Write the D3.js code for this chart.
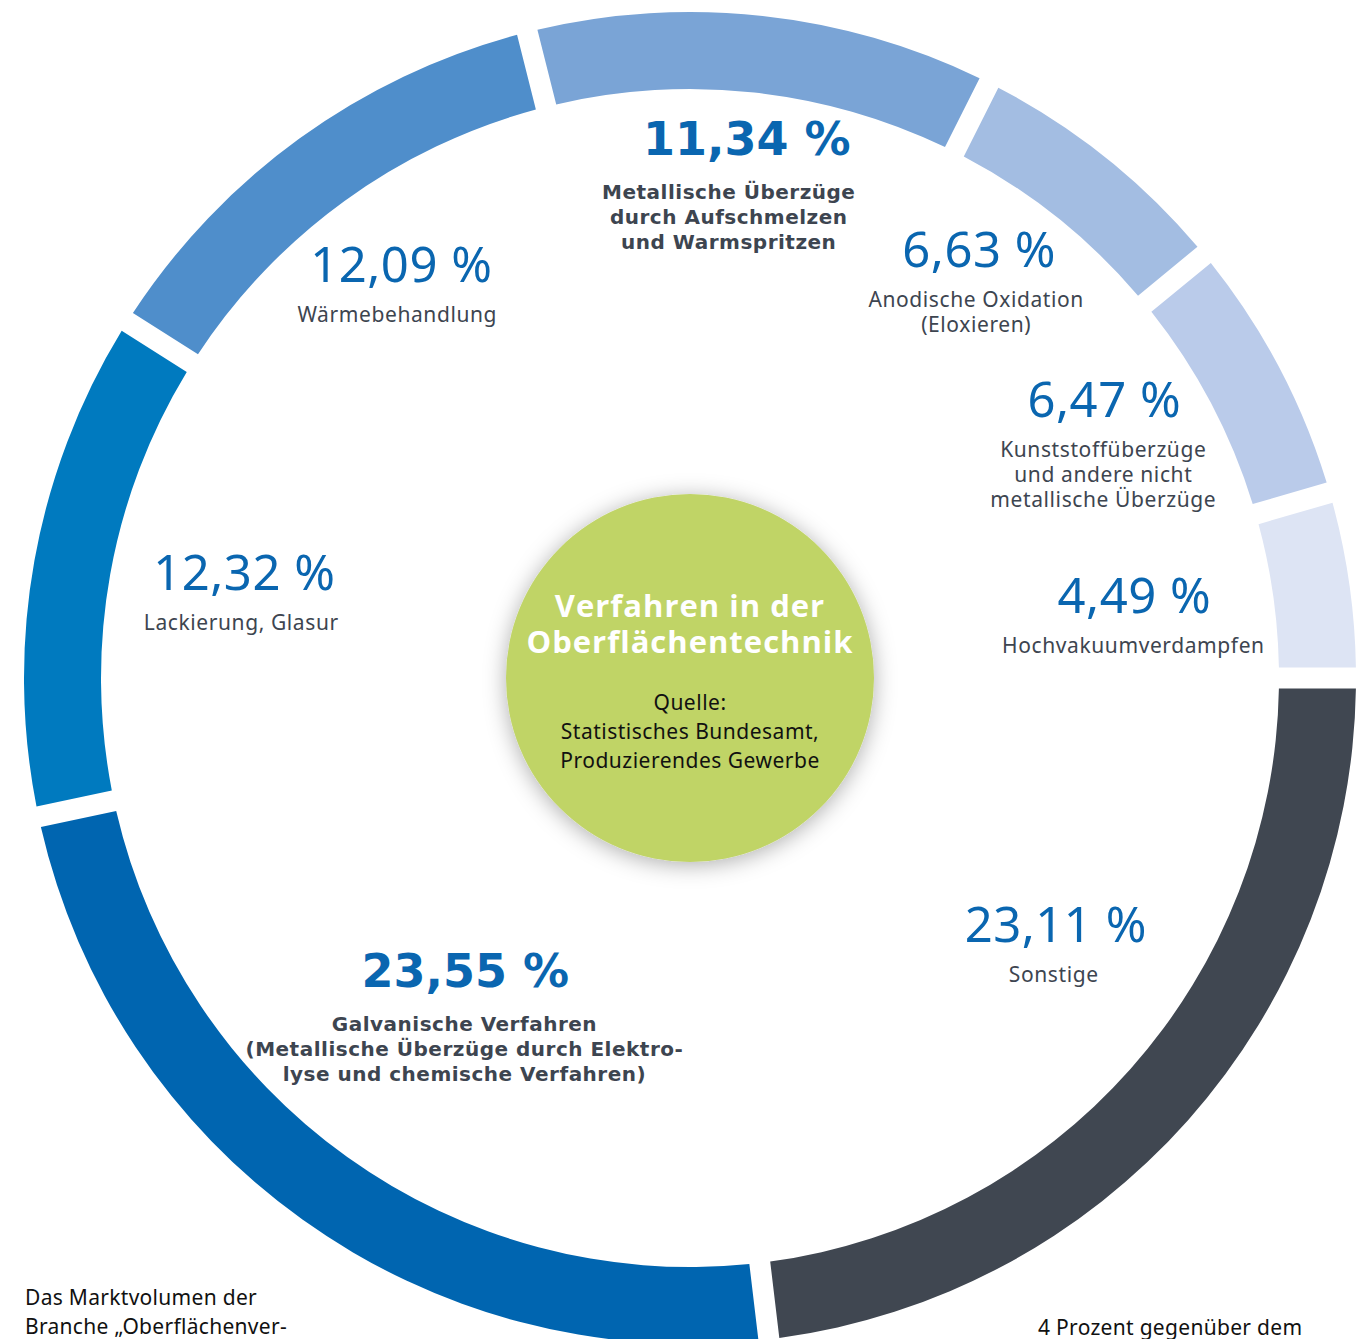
<!DOCTYPE html>
<html>
<head>
<meta charset="utf-8">
<script src="https://cdn.jsdelivr.net/npm/d3@7"></script>
<style>
  html, body { margin: 0; padding: 0; background: #fff; overflow: hidden; }
  svg { display: block; }
</style>
</head>
<body>
<script>
var width = 1367, height = 1339;
var cx = 690, cy = 678; //ring centre

//Data, clockwise from 3 o'clock
var categories = ["Sonstige", "Galvanische Verfahren", "Lackierung, Glasur", "Wärmebehandlung",
  "Metallische Überzüge durch Aufschmelzen und Warmspritzen", "Anodische Oxidation",
  "Kunststoffüberzüge", "Hochvakuumverdampfen"];
var shares = [23.11, 23.55, 12.32, 12.09, 11.34, 6.63, 6.47, 4.49];
var labelLines = [
  ["Sonstige"],
  ["Galvanische Verfahren", "(Metallische Überzüge durch Elektro-", "lyse und chemische Verfahren)"],
  ["Lackierung, Glasur"],
  ["Wärmebehandlung"],
  ["Metallische Überzüge", "durch Aufschmelzen", "und Warmspritzen"],
  ["Anodische Oxidation", "(Eloxieren)"],
  ["Kunststoffüberzüge", "und andere nicht", "metallische Überzüge"],
  ["Hochvakuumverdampfen"]
];
var highlighted = [false, true, false, false, true, false, false, false];

var centreTitle = ["Verfahren in der", "Oberflächentechnik"];
var centreSource = ["Quelle:", "Statistisches Bundesamt,", "Produzierendes Gewerbe"];
var footLeft = ["Das Marktvolumen der", "Branche „Oberflächenver-"];
var footRight = ["4 Prozent gegenüber dem"];

//Styling / layout (kept apart from the data)
var colors = ["#404751", "#0065b0", "#007abf", "#4f8ecb", "#7aa4d6", "#a3bde2", "#bacbea", "#dde4f4"];
var nudge = [[16, -45], [45, -69], [9, -6], [-20, -19], [-12, -61], [-4, -48], [2, -44], [-17, 0]];
var numberShift = [2, 1, 3, 4, 18, 3, 1, 1];

var fmt = function(v) { return v.toFixed(2).replace(".", ",") + " %"; };

var svg = d3.select("body").append("svg").attr("width", width).attr("height", height);

var defs = svg.append("defs");
var shadow = defs.append("filter").attr("id", "shade")
  .attr("x", "-30%").attr("y", "-30%").attr("width", "160%").attr("height", "160%");
shadow.append("feDropShadow").attr("dx", 0).attr("dy", 3)
  .attr("stdDeviation", 11).attr("flood-color", "#000").attr("flood-opacity", 0.32);

var g = svg.append("g").attr("transform", "translate(" + cx + "," + cy + ")");

//Proportional angles; the gap is cut out by the arc generator, centred on each boundary
var pie = d3.pie().sort(null).value(function(d) { return d; })
  .startAngle(Math.PI / 2).endAngle(Math.PI / 2 + 2 * Math.PI);

var arc = d3.arc().innerRadius(589).outerRadius(666)
  .padRadius(600).padAngle(21 / 600);
var labelArc = d3.arc().innerRadius(465).outerRadius(465);

var arcs = pie(shares);

g.selectAll("path.slice").data(arcs).enter().append("path")
  .attr("class", "slice")
  .attr("d", arc)
  .attr("fill", function(d, i) { return colors[i]; });

//Segment labels
var blocks = g.selectAll("g.lab").data(arcs).enter().append("g")
  .attr("class", "lab")
  .attr("transform", function(d, i) {
    var c = labelArc.centroid(d);
    return "translate(" + (c[0] + nudge[i][0]) + "," + (c[1] + nudge[i][1]) + ")";
  });

blocks.append("text")
  .attr("x", function(d, i) { return numberShift[i]; })
  .attr("text-anchor", "middle")
  .attr("fill", "#0a66b0")
  .style("font-family", function(d, i) { return highlighted[i] ? "'DejaVu Sans'" : "'Noto Sans'"; })
  .style("font-weight", function(d, i) { return highlighted[i] ? 700 : 400; })
  .style("font-size", function(d, i) { return highlighted[i] ? "46px" : "49px"; })
  .style("letter-spacing", function(d, i) { return highlighted[i] ? "0px" : "0.5px"; })
  .text(function(d) { return fmt(d.value); });

blocks.each(function(d, i) {
  var b = d3.select(this);
  var bold = highlighted[i];
  b.selectAll("text.line").data(labelLines[i]).enter().append("text")
    .attr("class", "line")
    .attr("text-anchor", "middle")
    .attr("y", function(t, j) { return (bold ? 44 : 40) + j * 25; })
    .attr("fill", "#3d4550")
    .style("font-family", bold ? "'DejaVu Sans'" : "'Noto Sans'")
    .style("font-weight", bold ? 700 : 400)
    .style("font-size", bold ? "20px" : "21px")
    .style("letter-spacing", bold ? "0.5px" : "0.6px")
    .text(function(t) { return t; });
});

//Centre disc
g.append("circle").attr("r", 184).attr("fill", "#c0d466").attr("filter", "url(#shade)");

g.selectAll("text.title").data(centreTitle).enter().append("text")
  .attr("class", "title")
  .attr("text-anchor", "middle")
  .attr("y", function(d, i) { return -61 + i * 36; })
  .attr("fill", "#fff")
  .style("font-family", "'Open Sans'")
  .style("font-weight", 700)
  .style("font-size", "31px")
  .style("letter-spacing", "1px")
  .text(function(d) { return d; });

g.selectAll("text.src").data(centreSource).enter().append("text")
  .attr("class", "src")
  .attr("text-anchor", "middle")
  .attr("y", function(d, i) { return 32 + i * 29; })
  .attr("fill", "#111")
  .style("font-family", "'Noto Sans'")
  .style("font-size", "21px")
  .style("letter-spacing", "0.5px")
  .text(function(d) { return d; });

//Running text cut off at the bottom of the page
svg.selectAll("text.footL").data(footLeft).enter().append("text")
  .attr("class", "footL")
  .attr("x", 25)
  .attr("y", function(d, i) { return 1305 + i * 29; })
  .attr("fill", "#111")
  .style("font-family", "'Noto Sans'")
  .style("font-size", "21px")
  .style("letter-spacing", "0.3px")
  .text(function(d) { return d; });

svg.selectAll("text.footR").data(footRight).enter().append("text")
  .attr("class", "footR")
  .attr("x", 1038)
  .attr("y", 1335)
  .attr("fill", "#111")
  .style("font-family", "'Noto Sans'")
  .style("font-size", "21px")
  .style("letter-spacing", "0.3px")
  .text(function(d) { return d; });
</script>
</body>
</html>
